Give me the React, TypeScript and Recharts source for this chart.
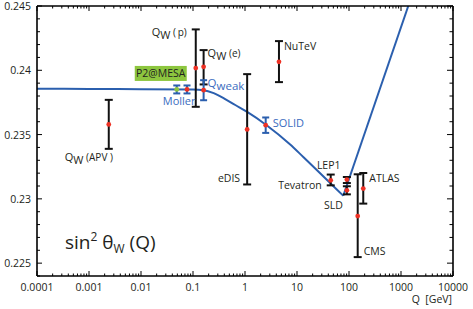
import React from 'react';
import { ComposedChart, Line, Scatter, XAxis, YAxis, ErrorBar } from 'recharts';

const FONT = '"Open Sans", "Noto Sans", "DejaVu Sans", sans-serif';

// Running of sin^2 theta_W (theory curve)
const curveQ = [0.0001, 0.001, 0.01, 0.1, 0.16, 0.25, 0.4, 0.65, 1.1, 2.6, 7.3, 13.2, 77.6, 1380];
const curveS = [0.23856, 0.23855, 0.23853, 0.2385, 0.23845, 0.23822, 0.2378, 0.2373, 0.23676, 0.23573, 0.23425, 0.23326, 0.23024, 0.245];
const curveMinIndex = 12; // the curve has a sharp minimum near the Z pole

// Existing measurements (black error bars)
const blackNames = ['APV', 'QWp', 'QWe', 'eDIS', 'NuTeV', 'Tevatron', 'LEP1', 'SLD', 'CMS', 'ATLAS'];
const blackQ = [0.0024, 0.113, 0.16, 1.1, 4.5, 44.5, 91, 91, 147, 188];
const blackS = [0.23579, 0.24017, 0.24027, 0.2354, 0.24066, 0.23144, 0.2315, 0.23066, 0.22866, 0.2308];
const blackLo = [0.23389, 0.23716, 0.2389, 0.23112, 0.23908, 0.23105, 0.23123, 0.23035, 0.22547, 0.22963];
const blackHi = [0.2377, 0.24318, 0.24157, 0.2397, 0.24227, 0.23189, 0.2317, 0.23098, 0.23191, 0.23201];

// Future / projected measurements (blue error bars)
const blueNames = ['P2', 'Moller', 'Qweak', 'SOLID'];
const blueQ = [0.0487, 0.0767, 0.16, 2.5];
const blueS = [0.23851, 0.23851, 0.23845, 0.23573];
const blueLo = [0.2382, 0.2382, 0.23767, 0.23513];
const blueHi = [0.23882, 0.23882, 0.23923, 0.23633];

// Axis ticks
const xDecades = [0.0001, 0.001, 0.01, 0.1, 1, 10, 100, 1000, 10000];
const xDecadeLabels = ['0.0001', '0.001', '0.01', '0.1', '1', '10', '100', '1000', '10000'];
const yMajor = [0.225, 0.23, 0.235, 0.24, 0.245];
const yMajorLabels = ['0.225', '0.23', '0.235', '0.24', '0.245'];
const yAll = [0.224, 0.225, 0.226, 0.227, 0.228, 0.229, 0.23, 0.231, 0.232, 0.233, 0.234, 0.235,
  0.236, 0.237, 0.238, 0.239, 0.24, 0.241, 0.242, 0.243, 0.244, 0.245];

const xAll: number[] = [];
xDecades.forEach((d, i) => {
  xAll.push(d);
  if (i < xDecades.length - 1) {
    for (let k = 2; k <= 9; k++) xAll.push(+(d * k).toPrecision(6));
  }
});

const curveData = curveQ.map((q, i) => ({ q, s: curveS[i] }));
const curveLeft = curveData.slice(0, curveMinIndex + 1);
const curveRight = curveData.slice(curveMinIndex);
const blackData = blackNames.map((name, i) => ({
  name, q: blackQ[i], s: blackS[i], err: [blackS[i] - blackLo[i], blackHi[i] - blackS[i]],
}));
const blueData = blueNames.map((name, i) => ({
  name, q: blueQ[i], s: blueS[i], err: [blueS[i] - blueLo[i], blueHi[i] - blueS[i]],
}));

const BLUE = '#2b5fae';
const BLUE_TXT = '#3a6cc0';
const RED = '#ee3124';
const GREEN = '#8dc63f';
const TXT = '#231f20';

const xIndex = (v: number) => xDecades.findIndex((d) => Math.abs(d - v) / d < 1e-6);
const yIndex = (v: number) => yMajor.findIndex((d) => Math.abs(d - v) < 1e-7);

const BottomTick = (p: any) => {
  const { x, y, payload } = p;
  const i = xIndex(payload.value);
  const major = i >= 0;
  return (
    <g>
      <line x1={x} x2={x} y1={y} y2={y - (major ? 5 : 2.5)} stroke="#000" strokeWidth={1} />
      {major && (
        <text x={x} y={y + 15} textAnchor="middle" fontSize={10.5} fontFamily={FONT} fill={TXT}>
          {xDecadeLabels[i]}
        </text>
      )}
    </g>
  );
};

const TopTick = (p: any) => {
  const { x, y, payload } = p;
  const major = xIndex(payload.value) >= 0;
  return <line x1={x} x2={x} y1={y} y2={y + (major ? 5 : 2.5)} stroke="#000" strokeWidth={1} />;
};

const LeftTick = (p: any) => {
  const { x, y, payload } = p;
  const i = yIndex(payload.value);
  const major = i >= 0;
  return (
    <g>
      <line x1={x} x2={x + (major ? 5 : 3)} y1={y} y2={y} stroke="#000" strokeWidth={1} />
      {major && (
        <text x={x - 6} y={y + 4} textAnchor="end" fontSize={10.5} fontFamily={FONT} fill={TXT}>
          {yMajorLabels[i]}
        </text>
      )}
    </g>
  );
};

const RightTick = (p: any) => {
  const { x, y, payload } = p;
  const major = yIndex(payload.value) >= 0;
  return <line x1={x} x2={x - (major ? 6 : 3.5)} y1={y} y2={y} stroke="#000" strokeWidth={1} />;
};

const fs = 10.5;
const T = (props: any) => <text fontFamily={FONT} fontSize={fs} fill={TXT} {...props} />;

const QW = ({ x, y, tag }: any) => (
  <T x={x} y={y} fontSize={11}>
    Q<tspan dy={3}>W</tspan>
    <tspan dy={-3} fontSize={10}>{'\u00a0(' + tag + ')'}</tspan>
  </T>
);

const pointLabel = (name: string, cx: number, cy: number) => {
  switch (name) {
    case 'APV':
      return <QW x={cx - 44} y={cy + 37} tag={'APV\u00a0'} />;
    case 'QWp':
      return <QW x={cx - 44} y={cy - 32} tag={'\u2009p'} />;
    case 'QWe':
      return <QW x={cx + 4} y={cy - 10} tag="e" />;
    case 'eDIS':
      return <T x={cx - 7} y={cy + 53} textAnchor="end">eDIS</T>;
    case 'NuTeV':
      return <T x={cx + 5} y={cy - 12}>NuTeV</T>;
    case 'Tevatron':
      return (
        <g>
          <T x={cx - 2} y={cy - 11} textAnchor="middle">LEP1</T>
          <T x={cx - 9} y={cy + 9} textAnchor="end">Tevatron</T>
        </g>
      );
    case 'SLD':
      return <T x={cx - 4} y={cy + 19} textAnchor="end">SLD</T>;
    case 'CMS':
      return <T x={cx + 6} y={cy + 39}>CMS</T>;
    case 'ATLAS':
      return <T x={cx + 6} y={cy - 7}>ATLAS</T>;
    case 'P2':
      return (
        <g>
          <rect x={cx - 42} y={cy - 23.5} width={52} height={15} fill={GREEN} />
          <T x={cx - 16} y={cy - 12} textAnchor="middle">P2@MESA</T>
          <T x={cx - 14} y={cy + 16} fill={BLUE_TXT} fontSize={11}>Moller</T>
        </g>
      );
    case 'Qweak':
      return (
        <T x={cx + 4} y={cy - 3} fill={BLUE_TXT} fontSize={11.5}>
          Q<tspan dy={3}>weak</tspan>
        </T>
      );
    case 'SOLID':
      return <T x={cx + 7} y={cy + 2} fill={BLUE_TXT} fontSize={11}>SOLID</T>;
    default:
      return null;
  }
};

const Dot = (p: any) => {
  const { cx, cy, payload } = p;
  if (cx == null || cy == null) return <g />;
  const fill = payload.name === 'P2' ? GREEN : RED;
  return (
    <g>
      <circle cx={cx} cy={cy} r={2.4} fill={fill} />
      {pointLabel(payload.name, cx, cy)}
    </g>
  );
};

export default function App() {
  return (
    <div style={{ position: 'absolute', left: 0, top: 0, background: '#fff' }}>
      <ComposedChart
        width={473}
        height={309}
        margin={{ top: 0, right: 0, bottom: 0, left: 0 }}
        style={{ fontFamily: FONT }}
      >
        <XAxis
          xAxisId="b"
          dataKey="q"
          type="number"
          scale="log"
          domain={[0.0001, 10000]}
          allowDataOverflow
          ticks={xAll}
          interval={0}
          tickSize={0}
          tickMargin={0}
          height={33}
          tick={<BottomTick />}
          axisLine={{ stroke: '#000', strokeWidth: 1.6 }}
        />
        <XAxis
          xAxisId="t"
          orientation="top"
          dataKey="q"
          type="number"
          scale="log"
          domain={[0.0001, 10000]}
          allowDataOverflow
          ticks={xAll}
          interval={0}
          tickSize={0}
          tickMargin={0}
          height={6}
          tick={<TopTick />}
          axisLine={{ stroke: '#000', strokeWidth: 1.6 }}
        />
        <YAxis
          yAxisId="l"
          type="number"
          domain={[0.224, 0.245]}
          allowDataOverflow
          ticks={yAll}
          interval={0}
          tickSize={0}
          tickMargin={0}
          width={37}
          tick={<LeftTick />}
          axisLine={{ stroke: '#000', strokeWidth: 1.6 }}
        />
        <YAxis
          yAxisId="r"
          orientation="right"
          type="number"
          domain={[0.224, 0.245]}
          allowDataOverflow
          ticks={yAll}
          interval={0}
          tickSize={0}
          tickMargin={0}
          width={20}
          tick={<RightTick />}
          axisLine={{ stroke: '#000', strokeWidth: 1.6 }}
        />
        <Line
          xAxisId="b"
          yAxisId="l"
          data={curveLeft}
          dataKey="s"
          type="monotone"
          stroke={BLUE}
          strokeWidth={2}
          dot={false}
          activeDot={false}
          isAnimationActive={false}
        />
        <Line
          xAxisId="b"
          yAxisId="l"
          data={curveRight}
          dataKey="s"
          type="linear"
          stroke={BLUE}
          strokeWidth={2}
          dot={false}
          activeDot={false}
          isAnimationActive={false}
        />
        <Scatter xAxisId="b" yAxisId="l" data={blackData} dataKey="s" shape={<Dot />} isAnimationActive={false}>
          <ErrorBar dataKey="err" direction="y" width={4} stroke="#111" strokeWidth={2} isAnimationActive={false} />
        </Scatter>
        <Scatter xAxisId="b" yAxisId="l" data={blueData} dataKey="s" shape={<Dot />} isAnimationActive={false}>
          <ErrorBar dataKey="err" direction="y" width={3.5} stroke={BLUE} strokeWidth={2} isAnimationActive={false} />
        </Scatter>
        <text x={65} y={249} fontFamily={FONT} fontSize={19} fill={TXT}>
          sin<tspan fontSize={12} dy={-8}>2</tspan>
          <tspan dy={8}>{'\u00a0θ'}</tspan>
          <tspan fontSize={12} dy={4}>W</tspan>
          <tspan dy={-4}>{'\u00a0(Q)'}</tspan>
        </text>
        <text x={452} y={303} textAnchor="end" fontFamily={FONT} fontSize={10.5} fill={TXT}>
          {'Q\u00a0\u00a0[GeV]'}
        </text>
      </ComposedChart>
    </div>
  );
}
